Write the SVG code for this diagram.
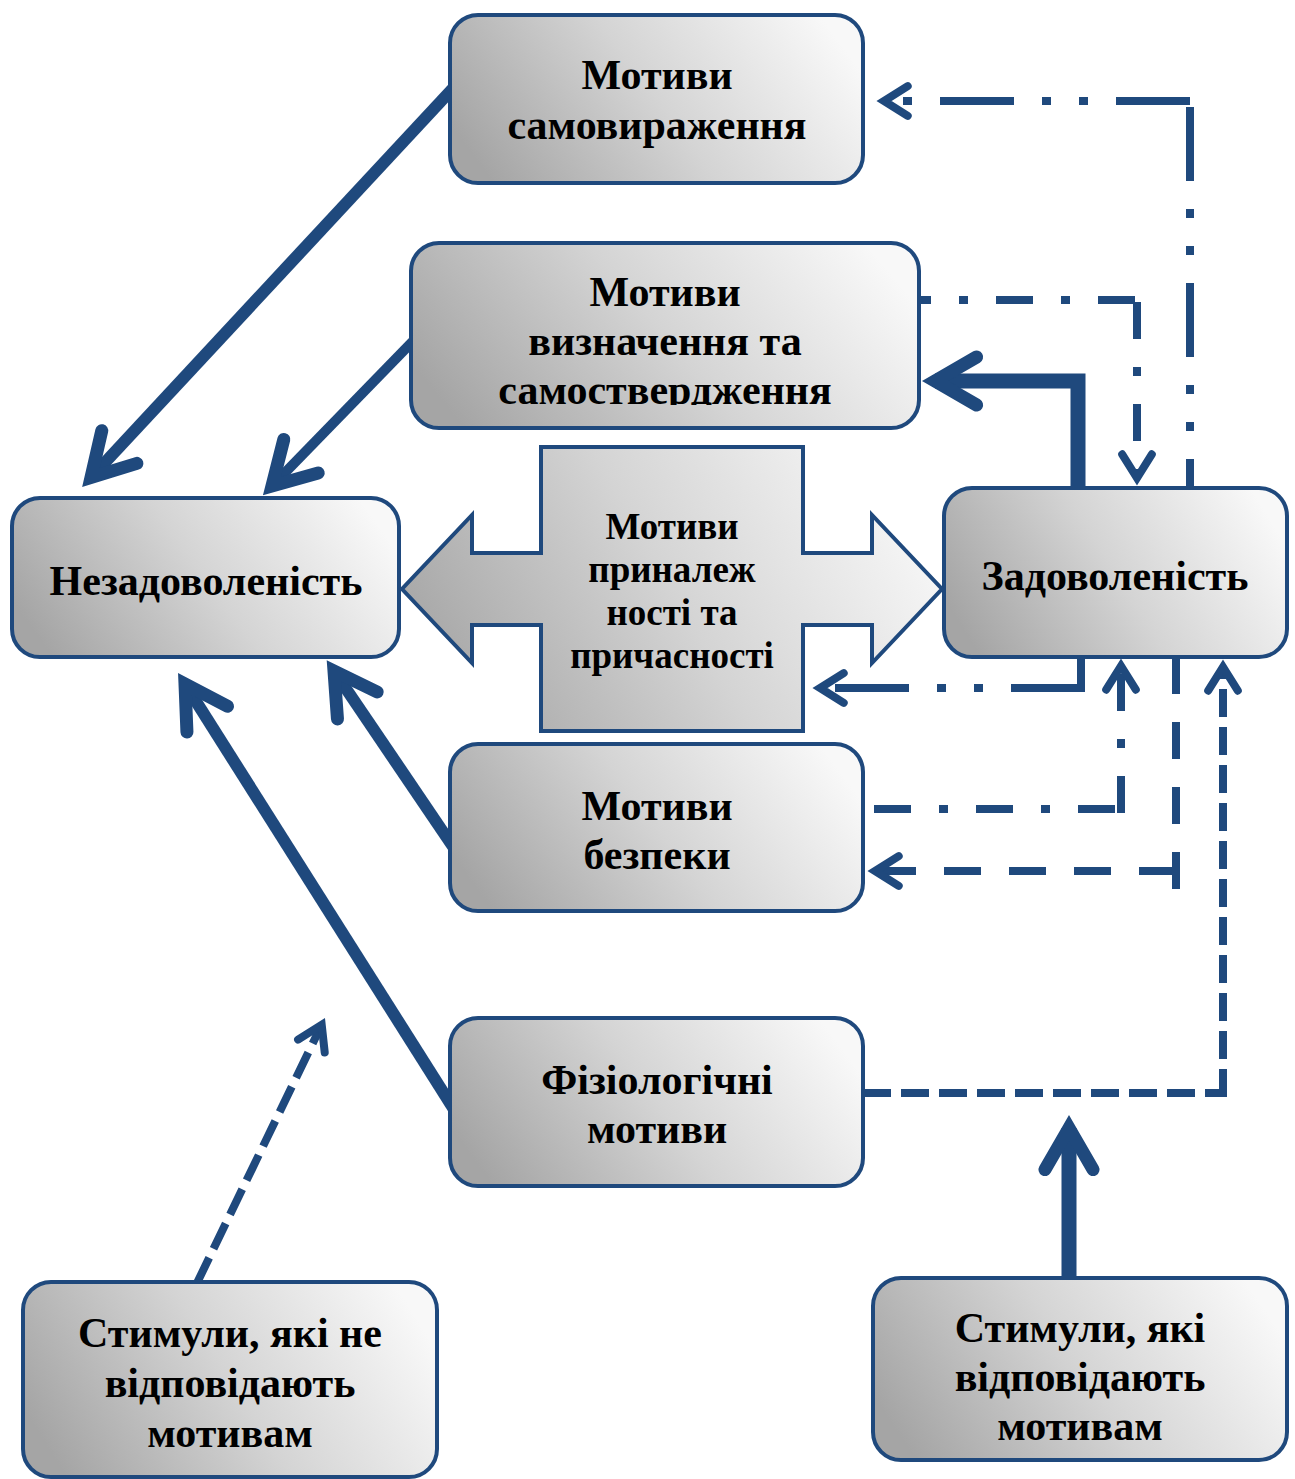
<svg xmlns="http://www.w3.org/2000/svg" width="1295" height="1479" viewBox="0 0 1295 1479">
<defs>
  <linearGradient id="fillG" x1="0" y1="0.65" x2="1" y2="0.35">
    <stop offset="0" stop-color="#a5a5a5"/>
    <stop offset="0.5" stop-color="#d4d4d4"/>
    <stop offset="1" stop-color="#f8f8f8"/>
  </linearGradient>
  <marker id="hS" markerUnits="userSpaceOnUse" markerWidth="140" markerHeight="140" viewBox="-70 -70 140 140" refX="0" refY="0" orient="auto" overflow="visible">
    <path d="M-41.6,-24 L0,0 L-41.6,24" fill="none" stroke="#1f497d" stroke-width="13" stroke-linecap="round" stroke-linejoin="miter" stroke-miterlimit="10"/>
  </marker>
  <marker id="hT" markerUnits="userSpaceOnUse" markerWidth="80" markerHeight="80" viewBox="-40 -40 80 80" refX="0" refY="0" orient="auto" overflow="visible">
    <path d="M-23.7,-14.8 L0,0 L-23.7,14.8" fill="none" stroke="#1f497d" stroke-width="8" stroke-linecap="round" stroke-linejoin="miter" stroke-miterlimit="10"/>
  </marker>
  <clipPath id="clipB2">
    <rect x="411" y="243" width="508" height="162"/>
  </clipPath>
</defs>
<style>
  .box{fill:url(#fillG);stroke:#1f497d;stroke-width:4}
  .t{font-family:"Liberation Serif","Times New Roman",serif;font-weight:bold;font-size:42px;fill:#000;text-anchor:middle}
  .ts{font-size:37px}
  .c{fill:none;stroke:#1f497d;stroke-linecap:butt;stroke-linejoin:miter}
  .w12{stroke-width:12}
  .w10{stroke-width:10}
  .w15{stroke-width:15}
  .w8{stroke-width:8}
  .ddd{stroke-dasharray:74 28 9 28 9 28}
  .dd{stroke-dasharray:37 28 9 28}
  .da{stroke-dasharray:37 28}
  .sd{stroke-dasharray:28 10}
  .sm{marker-end:url(#hS)}
  .tm{marker-end:url(#hT)}
</style>

<g id="connectors">
  <path class="c w12 sm" d="M457,84 L91,477.5"/>
  <path class="c w10 sm" d="M417,337 L272,486"/>
  <path class="c w12 sm" d="M458,854 L334,671"/>
  <path class="c w12 sm" d="M455,1111 L185,684"/>
  <path class="c w15 sm" d="M1078,496 V381 H935"/>
  <path class="c w15 sm" d="M1069,1288 V1128"/>
  <path class="c w8 ddd" style="stroke-dashoffset:45" d="M1190,488 V97"/>
  <path class="c w8 ddd tm" style="stroke-dashoffset:-4" d="M1194,101 H884"/>
  <path class="c w8 dd" style="stroke-dashoffset:25" d="M919,300 H1141"/>
  <path class="c w8 dd tm" style="stroke-dashoffset:-5" d="M1137,297 V478"/>
  <path class="c w8" d="M1081,657 V692"/>
  <path class="c w8 ddd tm" d="M1085,688 H820"/>
  <path class="c w8 dd" d="M874,809 H1125"/>
  <path class="c w8 dd tm" d="M1121,813 V666"/>
  <path class="c w8 da" d="M1176,657 V889"/>
  <path class="c w8 da tm" d="M1176,871 H875"/>
  <path class="c w8 sd" style="stroke-dashoffset:2" d="M865,1093 H1227"/>
  <path class="c w8 sd tm" d="M1223,1097 V667"/>
  <path class="c w8 sd tm" d="M197,1283 L321.7,1024.7"/>
</g>

<g id="node-samovyrazhennia">
  <rect class="box" x="450" y="15" width="413" height="168" rx="28"/>
  <text class="t" x="657" y="89">Мотиви</text>
  <text class="t" x="657" y="139">самовираження</text>
</g>
<g id="node-vyznachennia">
  <rect class="box" x="411" y="243" width="508" height="185" rx="28"/>
  <g clip-path="url(#clipB2)">
    <text class="t" x="665" y="306">Мотиви</text>
    <text class="t" x="665" y="355">визначення та</text>
    <text class="t" x="665" y="404">самоствердження</text>
  </g>
</g>
<g id="node-nezadovolenist">
  <rect class="box" x="12" y="498" width="387" height="159" rx="28"/>
  <text class="t" x="206" y="595">Незадоволеність</text>
</g>
<g id="node-zadovolenist">
  <rect class="box" x="944" y="488" width="343" height="169" rx="28"/>
  <text class="t" x="1115" y="590">Задоволеність</text>
</g>
<g id="node-prynalezhnosti">
  <polygon class="box" points="541,447 803,447 803,553 872,553 872,515 942,589 872,663 872,625 803,625 803,731 541,731 541,625 472,625 472,663 402,589 472,515 472,553 541,553"/>
  <text class="t ts" x="672" y="539">Мотиви</text>
  <text class="t ts" x="672" y="582">приналеж</text>
  <text class="t ts" x="672" y="625">ності та</text>
  <text class="t ts" x="672" y="668">причасності</text>
</g>
<g id="node-bezpeky">
  <rect class="box" x="450" y="744" width="413" height="167" rx="28"/>
  <text class="t" x="657" y="820">Мотиви</text>
  <text class="t" x="657" y="869">безпеки</text>
</g>
<g id="node-fiziologichni">
  <rect class="box" x="450" y="1018" width="413" height="168" rx="28"/>
  <text class="t" x="657" y="1094">Фізіологічні</text>
  <text class="t" x="657" y="1143">мотиви</text>
</g>
<g id="node-stymuly-ne">
  <rect class="box" x="23" y="1282" width="414" height="195" rx="28"/>
  <text class="t" x="230" y="1347">Стимули, які не</text>
  <text class="t" x="230" y="1397">відповідають</text>
  <text class="t" x="230" y="1447">мотивам</text>
</g>
<g id="node-stymuly">
  <rect class="box" x="873" y="1278" width="414" height="182" rx="28"/>
  <text class="t" x="1080" y="1342">Стимули, які</text>
  <text class="t" x="1080" y="1391">відповідають</text>
  <text class="t" x="1080" y="1440">мотивам</text>
</g>
</svg>
